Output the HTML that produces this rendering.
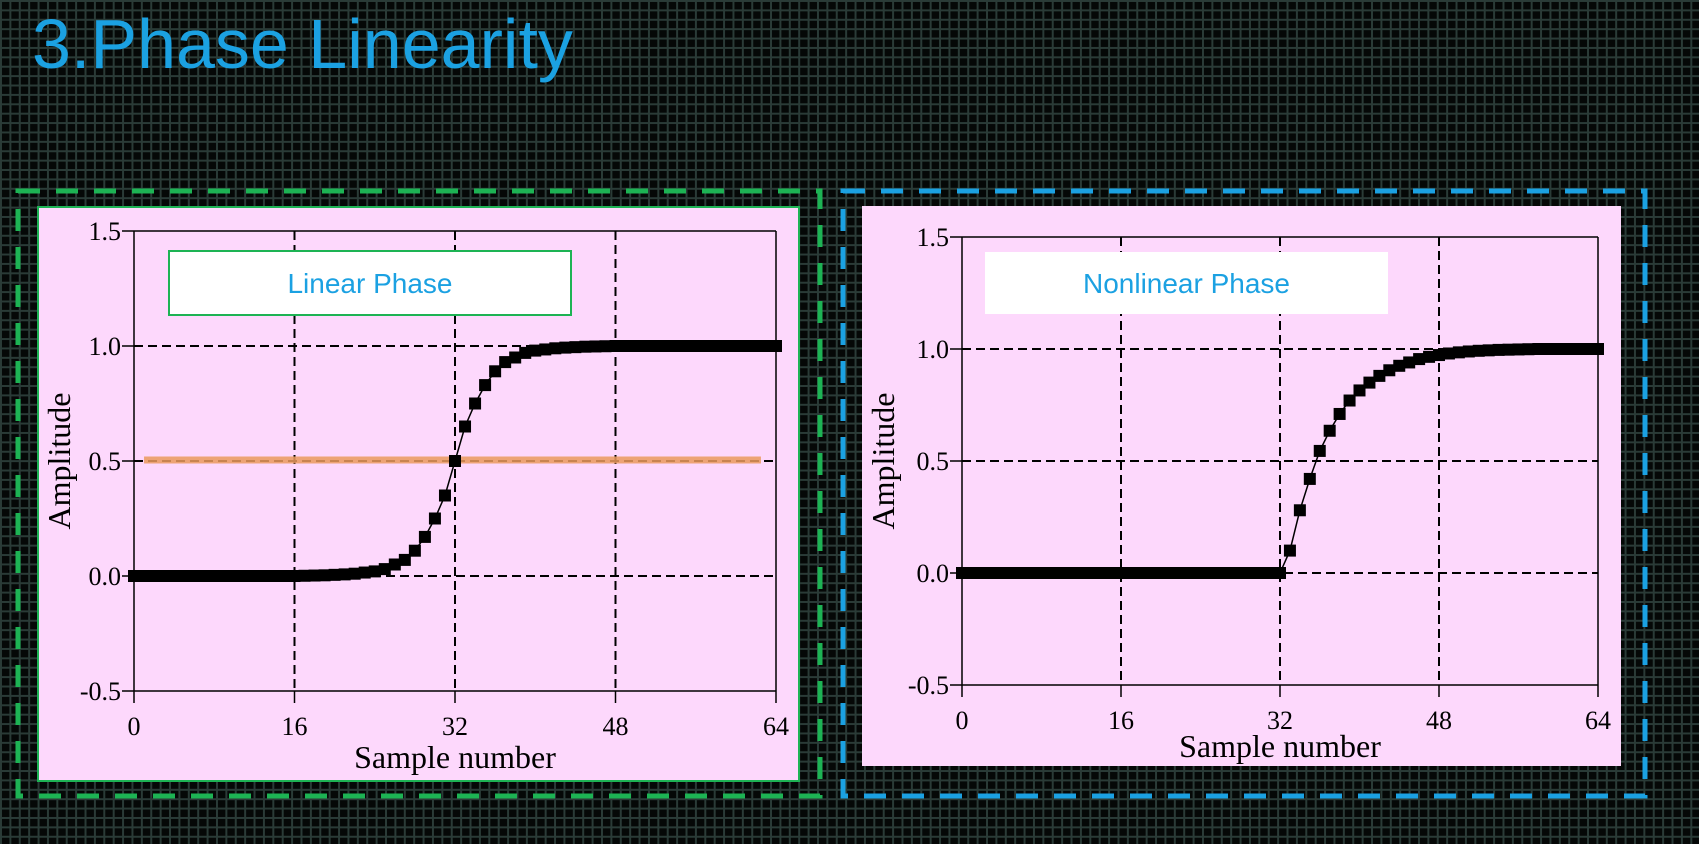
<!DOCTYPE html>
<html><head><meta charset="utf-8"><style>
html,body{margin:0;padding:0;}
body{width:1699px;height:844px;overflow:hidden;position:relative;background-color:#050807;
background-image:linear-gradient(to right,#2a3b37 2px,transparent 2px),linear-gradient(to bottom,#2a3b37 2px,transparent 2px);
background-size:9.4px 9.4px;font-family:"Liberation Sans",sans-serif;}
#title{position:absolute;left:32px;top:4px;font-size:70px;color:#1ba1e2;letter-spacing:0px;}
svg{position:absolute;left:0;top:0;}
</style></head><body>
<div id="title">3.Phase Linearity</div>
<svg id="s" width="1699" height="844"></svg>
<script>
const xTicks=[0,16,32,48,64];
const yTicks=[-0.5,0.0,0.5,1.0,1.5];
const yTickLabels=["-0.5","0.0","0.5","1.0","1.5"];
const linearValues=[0,0,0,0,0,0,0,0,0,0,0,0,0,0,0,0,0,0.001,0.002,0.003,0.005,0.007,0.01,0.015,0.02,0.03,0.05,0.07,0.11,0.17,0.25,0.35,0.5,0.65,0.75,0.83,0.89,0.93,0.95,0.97,0.98,0.985,0.99,0.993,0.995,0.997,0.998,0.999,1,1,1,1,1,1,1,1,1,1,1,1,1,1,1,1,1];
const nonlinearValues=[0,0,0,0,0,0,0,0,0,0,0,0,0,0,0,0,0,0,0,0,0,0,0,0,0,0,0,0,0,0,0,0,0,0.10,0.28,0.42,0.545,0.635,0.71,0.77,0.815,0.85,0.88,0.905,0.925,0.94,0.955,0.965,0.973,0.98,0.985,0.989,0.992,0.994,0.996,0.997,0.998,0.999,1,1,1,1,1,1,1];
const NS="http://www.w3.org/2000/svg";
const svg=document.getElementById('s');
function mk(tag,attrs,parent){const e=document.createElementNS(NS,tag);for(const k in attrs)e.setAttribute(k,attrs[k]);(parent||svg).appendChild(e);return e;}
function drawChart(cfg){
  const g=mk('g',{});
  
  
  const box=mk('rect',{x:cfg.box[0],y:cfg.box[1],width:cfg.box[2],height:cfg.box[3],fill:'none',stroke:cfg.dash,'stroke-width':5,'stroke-dasharray':'22 16'},g);
  
  
  const pk=mk('rect',{x:cfg.pink[0],y:cfg.pink[1],width:cfg.pink[2],height:cfg.pink[3],fill:'#fdd8fc',stroke:cfg.pinkStroke,'stroke-width':2},g);
  
  
  const X=v=>cfg.x0+(v-0)/64*(cfg.x1-cfg.x0);
  const Y=v=>cfg.yb+(v+0.5)/2*(cfg.yt-cfg.yb);
  [16,32,48].forEach(t=>{const l=mk('line',{x1:X(t),x2:X(t),y1:Y(1.5),y2:Y(-0.5),stroke:'#000','stroke-width':2,'stroke-dasharray':'9 5'},g);
    });
  [0,0.5,1].forEach(t=>{const l=mk('line',{x1:X(0),x2:X(64),y1:Y(t),y2:Y(t),stroke:'#000','stroke-width':2,'stroke-dasharray':'9 5'},g);
    });
  mk('line',{x1:X(0),x2:X(64),y1:Y(1.5),y2:Y(1.5),stroke:'#000','stroke-width':1.5},g);
  mk('line',{x1:X(0),x2:X(64),y1:Y(-0.5),y2:Y(-0.5),stroke:'#000','stroke-width':1.5},g);
  mk('line',{x1:X(0),x2:X(0),y1:Y(1.5),y2:Y(-0.5),stroke:'#000','stroke-width':1.5},g);
  mk('line',{x1:X(64),x2:X(64),y1:Y(1.5),y2:Y(-0.5),stroke:'#000','stroke-width':1.5},g);
  xTicks.forEach(t=>{mk('line',{x1:X(t),x2:X(t),y1:Y(-0.5),y2:Y(-0.5)+12,stroke:'#000','stroke-width':1.5},g);
    const tx=mk('text',{x:X(t),y:Y(-0.5)+44,'text-anchor':'middle','font-family':'Liberation Serif,serif','font-size':26,fill:'#000'},g);tx.textContent=t;
    });
  yTicks.forEach((t,i)=>{mk('line',{x1:X(0)-12,x2:X(0),y1:Y(t),y2:Y(t),stroke:'#000','stroke-width':1.5},g);
    const tx=mk('text',{x:X(0)-13,y:Y(t)+9,'text-anchor':'end','font-family':'Liberation Serif,serif','font-size':26,fill:'#000'},g);tx.textContent=yTickLabels[i];
    });
  const xt=mk('text',{x:(X(0)+X(64))/2,y:cfg.xTitleY,'text-anchor':'middle','font-family':'Liberation Serif,serif','font-size':32,fill:'#000'},g);xt.textContent='Sample number';
  
  const yt=mk('text',{x:0,y:0,'text-anchor':'middle','font-family':'Liberation Serif,serif','font-size':32,fill:'#000',transform:`translate(${cfg.yTitleX},${Y(0.5)}) rotate(-90)`},g);yt.textContent='Amplitude';
  
  if(cfg.highlight){const h=mk('line',{x1:X(1),x2:X(62.5),y1:Y(0.5)-1,y2:Y(0.5)-1,stroke:'#eb9a5e','stroke-width':7,opacity:0.85},g);
    }
  const pts=cfg.values.map((v,i)=>X(i)+','+Y(v)).join(' ');
  const pl=mk('polyline',{points:pts,fill:'none',stroke:'#000','stroke-width':1.5},g);
  
  cfg.values.forEach((v,i)=>{const r=mk('rect',{x:X(i)-6,y:Y(v)-6,width:12,height:12,fill:'#000'},g);
    });
  const lb=mk('rect',{x:cfg.label[0],y:cfg.label[1],width:cfg.label[2],height:cfg.label[3],fill:'#fff',stroke:cfg.labelStroke,'stroke-width':2},g);
  
  const lt=mk('text',{x:cfg.label[0]+cfg.label[2]/2,y:cfg.label[1]+cfg.label[3]/2+10,'text-anchor':'middle','font-family':'Liberation Sans,sans-serif','font-size':28,fill:'#1ba1e2'},g);lt.textContent=cfg.labelText;
  
}
drawChart({name:'linear-phase-chart',box:[18,191,802,605],dash:'#1db354',pink:[38,207,761,574],pinkStroke:'#1db354',
  x0:134,x1:776,yt:231,yb:691,xTitleY:768,yTitleX:70,values:linearValues,highlight:true,
  label:[169,251,402,64],labelStroke:'#1db354',labelText:'Linear  Phase'});
drawChart({name:'nonlinear-phase-chart',box:[843,191,802,605],dash:'#1ba1e2',pink:[862,206,759,560],pinkStroke:'none',
  x0:962,x1:1598,yt:237,yb:685,xTitleY:757,yTitleX:894,values:nonlinearValues,highlight:false,
  label:[985,252,403,62],labelStroke:'none',labelText:'Nonlinear  Phase'});
</script>
</body></html>
